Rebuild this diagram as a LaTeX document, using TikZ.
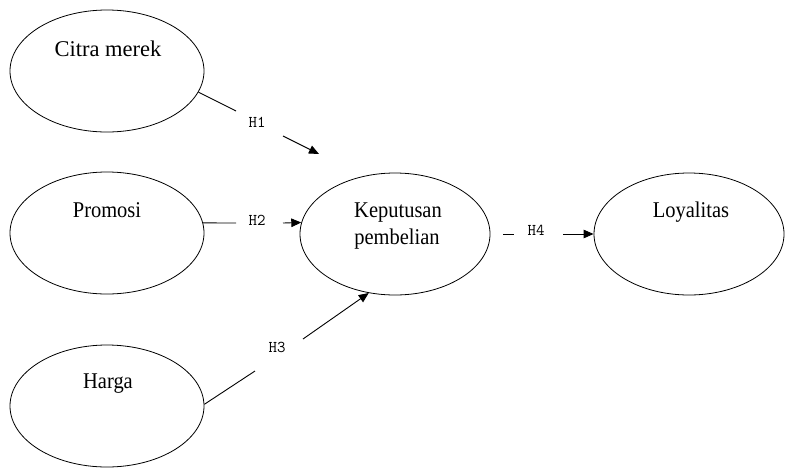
\documentclass[tikz,border=0pt]{standalone}
\usepackage{fontspec}
\setmainfont{Liberation Serif}
\newfontfamily\tallserif[FakeStretch=0.91]{Liberation Serif}
\usetikzlibrary{shapes.geometric,arrows.meta}
\begin{document}
\begin{tikzpicture}[x=1pt,y=-1pt,
  construct/.style={draw, ellipse, line width=0.8pt, minimum width=194pt, minimum height=122pt, inner sep=0pt},
  cname/.style={font=\tallserif\fontsize{22.5}{26}\selectfont, anchor=base, inner sep=0pt},
  hyp/.style={font=\ttfamily\fontsize{16.5}{18}\selectfont\addfontfeatures{FakeBold=1.2}, inner sep=0pt},
  link/.style={line width=0.9pt},
  tip/.style={link, -{Triangle[length=10pt,width=8.5pt]}}
]
\useasboundingbox (0,0) rectangle (791,469);

% latent constructs
\node[construct] (cm) at (107,71)  {};
\node[construct] (pr) at (107,233) {};
\node[construct] (hg) at (107,406) {};
\node[construct, minimum width=190pt] (kp) at (395,234) {};
\node[construct, minimum width=190pt] (ly) at (689,234) {};

% construct names
\node[cname, font=\fontsize{22.5}{26}\selectfont] (tcm) at (108,56)  {Citra merek};
\node[cname] (tpr) at (107,217) {Promosi};
\node[cname] (thg) at (108,388) {Harga};
\node[cname] (tkp1) at (398,217) {Keputusan};
\node[cname] (tkp2) at (397,244) {pembelian};
\node[cname] (tly) at (691,217) {Loyalitas};

% hypothesis labels
\node[hyp] (h1) at (257,122) {H1};
\node[hyp] (h2) at (257,220) {H2};
\node[hyp] (h3) at (277,347) {H3};
\node[hyp] (h4) at (536,230) {H4};

% break points of the paths
\coordinate (h1a) at (236,111);
\coordinate (h1b) at (283,136);
\coordinate (h1c) at (319,154);
\coordinate (h2a) at (236,223);
\coordinate (h2b) at (283,223);
\coordinate (h3a) at (255,371);
\coordinate (h3b) at (303,339);
\coordinate (h4a) at (503,234);
\coordinate (h4b) at (514,234);
\coordinate (h4c) at (563,234);

% H1
\draw[link] (cm.-13) -- (h1a);
\draw[tip] (h1b) -- (h1c);
% H2
\draw[link] (pr.6) -- (h2a);
\draw[tip] (h2b) -- (kp.173);
% H3
\draw[link] (hg.1) -- (h3a);
\draw[tip] (h3b) -- (kp.246);
% H4
\draw[link] (h4a) -- (h4b);
\draw[tip] (h4c) -- (ly.west);
\end{tikzpicture}
\end{document}
